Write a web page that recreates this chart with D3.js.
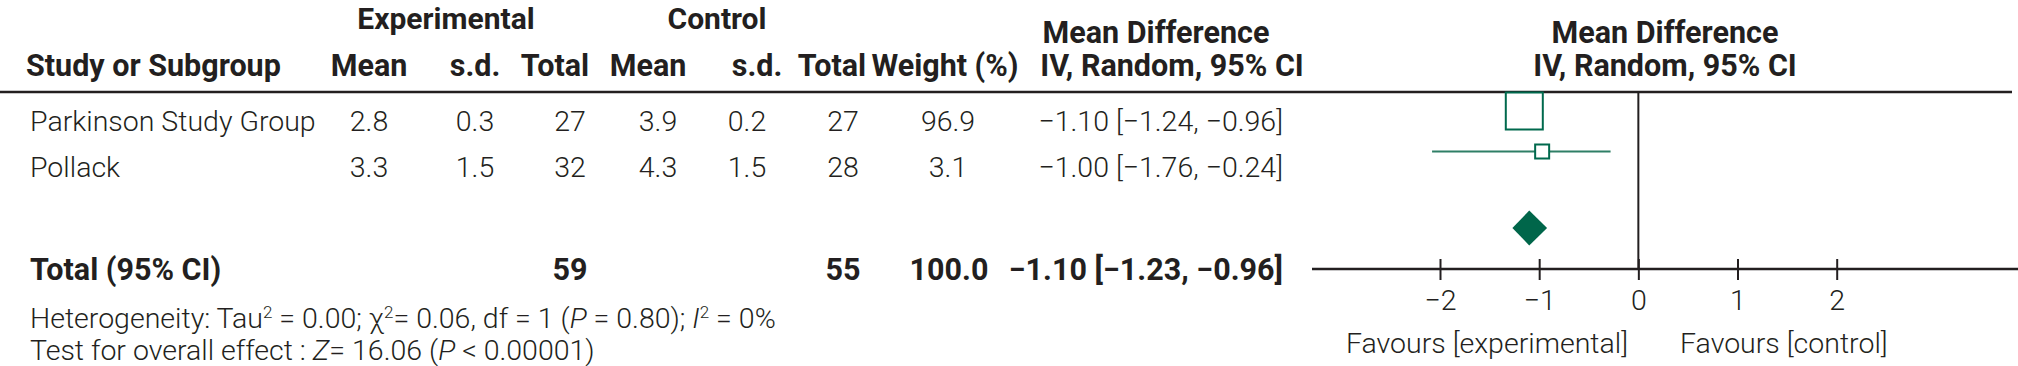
<!DOCTYPE html>
<html><head><meta charset="utf-8">
<script src="https://cdn.jsdelivr.net/npm/d3@7"></script>
<style>
html,body{margin:0;padding:0;background:#fff;}
svg{display:block;}
.lt{font-family:Roboto,"Noto Sans",sans-serif;font-weight:300;fill:#231f20;}
.bd{font-family:Roboto,"Noto Sans",sans-serif;font-weight:700;fill:#231f20;}
</style></head>
<body>
<svg id="chart" width="2018" height="366"></svg>
<script>
// ---------- data ----------
const studies   = ["Parkinson Study Group", "Pollack"];
const expMean   = ["2.8", "3.3"];
const expSd     = ["0.3", "1.5"];
const expTotal  = ["27", "32"];
const ctlMean   = ["3.9", "4.3"];
const ctlSd     = ["0.2", "1.5"];
const ctlTotal  = ["27", "28"];
const weights   = [96.9, 3.1];
const weightTxt = ["96.9", "3.1"];
const ciTxt     = ["\u22121.10 [\u22121.24, \u22120.96]", "\u22121.00 [\u22121.76, \u22120.24]"];
// plotted effect estimates as drawn in the figure
const mdPoint   = [-1.15, -0.97];
const mdLow     = [-1.24, -2.08];
const mdHigh    = [-0.96, -0.28];
const totalLabel = "Total (95% CI)";
const totalExp   = "59";
const totalCtl   = "55";
const totalWeight= "100.0";
const totalCiTxt = "\u22121.10 [\u22121.23, \u22120.96]";
const totalPoint = -1.10, totalLow = -1.27, totalHigh = -0.92;
const xTicks = [-2, -1, 0, 1, 2];
const favLeft = "Favours [experimental]";
const favRight = "Favours [control]";

// ---------- layout ----------
const svg = d3.select("#chart");
const ink = "#231f20", green = "#00694d", ciGreen = "#2f7f66";
const x = d3.scaleLinear().domain([-2, 2]).range([1440, 1836.7]);
const boxSize = d3.scaleLinear().domain([3.1, 96.9]).range([14, 37]);
const rowText = [131, 177];
const rowMark = [111, 151.5];
const totalText = 280, totalMark = 228;
const axisY = 269;
const fs = 28.5, bfs = 30.5;

function txt(s, xx, yy, cls, anchor, size){
  return svg.append("text").attr("class", cls).attr("x", xx).attr("y", yy)
    .attr("text-anchor", anchor || "start").attr("font-size", size || fs).text(s);
}

// group headers
txt("Experimental", 446, 29, "bd", "middle", 30);
txt("Control", 717, 29, "bd", "middle", 30);
txt("Mean Difference", 1156, 43, "bd", "middle", bfs);
txt("Mean Difference", 1665, 43, "bd", "middle", bfs);
// column headers
const hdr = [["Study or Subgroup", 26, "start"], ["Mean", 369, "middle"], ["s.d.", 475, "middle"],
  ["Total", 555, "middle"], ["Mean", 648, "middle"], ["s.d.", 757, "middle"], ["Total", 832, "middle"],
  ["Weight (%)", 945, "middle"], ["IV, Random, 95% CI", 1172, "middle"], ["IV, Random, 95% CI", 1665, "middle"]];
hdr.forEach(h => txt(h[0], h[1], 76, "bd", h[2], bfs));

// separator line
svg.append("line").attr("x1", 0).attr("x2", 2012).attr("y1", 92).attr("y2", 92)
  .attr("stroke", ink).attr("stroke-width", 2.5);

// rows
const cols = [[studies, 30, "start"], [expMean, 369, "middle"], [expSd, 475, "middle"], [expTotal, 570, "middle"],
  [ctlMean, 658, "middle"], [ctlSd, 747, "middle"], [ctlTotal, 843, "middle"], [weightTxt, 948, "middle"], [ciTxt, 1283, "end"]];
studies.forEach((s, i) => {
  cols.forEach(c => txt(c[0][i], c[1], rowText[i], "lt", c[2]));
});

// total row
txt(totalLabel, 30, totalText, "bd", "start", bfs);
txt(totalExp, 570, totalText, "bd", "middle", bfs);
txt(totalCtl, 843, totalText, "bd", "middle", bfs);
txt(totalWeight, 949, totalText, "bd", "middle", bfs);
txt(totalCiTxt, 1283, totalText, "bd", "end", bfs);

// footnotes
const het = svg.append("text").attr("class", "lt").attr("x", 30).attr("y", 328).attr("font-size", fs);
het.append("tspan").text("Heterogeneity: Tau");
het.append("tspan").attr("font-size", 17).attr("dy", -10).text("2");
het.append("tspan").attr("dy", 10).text(" = 0.00; \u03c7");
het.append("tspan").attr("font-size", 17).attr("dy", -10).text("2");
het.append("tspan").attr("dy", 10).text("= 0.06, df = 1 (");
het.append("tspan").attr("font-style", "italic").text("P");
het.append("tspan").text(" = 0.80); ");
het.append("tspan").attr("font-style", "italic").text("I");
het.append("tspan").attr("font-size", 17).attr("dy", -10).text("2");
het.append("tspan").attr("dy", 10).text(" = 0%");
const tst = svg.append("text").attr("class", "lt").attr("x", 30).attr("y", 360).attr("font-size", fs);
tst.append("tspan").text("Test for overall effect : ");
tst.append("tspan").attr("font-style", "italic").text("Z");
tst.append("tspan").text("= 16.06 (");
tst.append("tspan").attr("font-style", "italic").text("P");
tst.append("tspan").text(" < 0.00001)");

// zero line
svg.append("line").attr("x1", x(0)).attr("x2", x(0)).attr("y1", 92).attr("y2", axisY)
  .attr("stroke", ink).attr("stroke-width", 2);

// axis
svg.append("line").attr("x1", 1312).attr("x2", 2018).attr("y1", axisY).attr("y2", axisY)
  .attr("stroke", ink).attr("stroke-width", 2.5);
const ax = svg.append("g").attr("transform", `translate(0,${axisY})`)
  .call(d3.axisBottom(x).tickValues(xTicks).tickSize(0).tickFormat(d3.format("d")));
ax.select(".domain").remove();
ax.selectAll(".tick line").attr("y1", -10).attr("y2", 11).attr("stroke", ink).attr("stroke-width", 2);
ax.selectAll(".tick text").attr("class", "lt").attr("font-size", fs).attr("dy", null).attr("y", 41)
  .attr("fill", ink).attr("font-family", null);
txt(favLeft, 1628, 353, "lt", "end");
txt(favRight, 1680, 353, "lt", "start");

// CI lines and boxes
const g = svg.append("g");
g.selectAll("line.ci").data(studies).join("line").attr("class", "ci")
  .attr("x1", (d, i) => x(mdLow[i])).attr("x2", (d, i) => x(mdHigh[i]))
  .attr("y1", (d, i) => rowMark[i]).attr("y2", (d, i) => rowMark[i])
  .attr("stroke", ciGreen).attr("stroke-width", 2.2);
g.selectAll("rect.box").data(studies).join("rect").attr("class", "box")
  .attr("x", (d, i) => x(mdPoint[i]) - boxSize(weights[i]) / 2)
  .attr("y", (d, i) => rowMark[i] - boxSize(weights[i]) / 2)
  .attr("width", (d, i) => boxSize(weights[i])).attr("height", (d, i) => boxSize(weights[i]))
  .attr("fill", "#fff").attr("stroke", green).attr("stroke-width", 2);
// diamond
const dh = 17.5;
g.append("path").attr("d", `M${x(totalLow)},${totalMark} L${x(totalPoint)},${totalMark - dh} L${x(totalHigh)},${totalMark} L${x(totalPoint)},${totalMark + dh} Z`)
  .attr("fill", "#00664a");
</script>
</body></html>
